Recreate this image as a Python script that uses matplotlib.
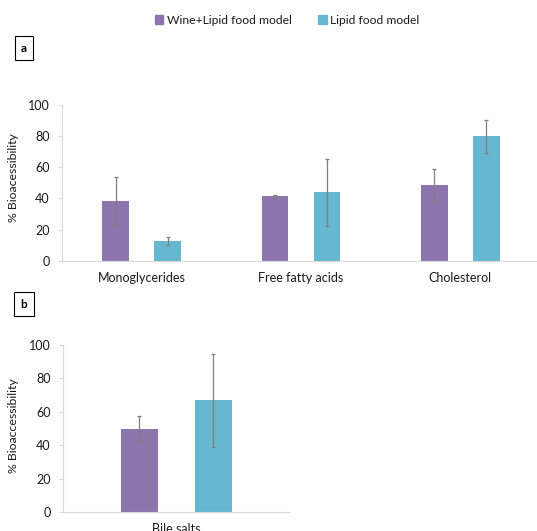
import matplotlib
matplotlib.use("Agg")
import matplotlib.pyplot as plt
import numpy as np
from matplotlib.patches import Patch

plt.rcParams['font.family'] = ['Lato', 'DejaVu Sans']

# Bioaccessibility data (mean and SD) for the two food models
lipid_classes = ["Monoglycerides", "Free fatty acids", "Cholesterol"]
wine_lipid_a = [38.5, 41.5, 48.7]
wine_lipid_a_err = [15.5, 1.0, 10.3]
lipid_a = [12.4, 44.0, 80.0]
lipid_a_err = [2.6, 21.4, 10.7]

bile_classes = ["Bile salts"]
wine_lipid_b = [49.6]
wine_lipid_b_err = [7.6]
lipid_b = [66.8]
lipid_b_err = [27.6]

series_names = ["Wine+Lipid food model", "Lipid food model"]
purple = "#8d76ad"
cyan = "#65b8d0"
axis_grey = "#d9d9d9"
err_grey = "#7f7f7f"
text_col = "#1a1a1a"

fig = plt.figure(figsize=(5.37, 5.31), dpi=100)


def bar_panel(ax, cats, v1, e1, v2, e2, right_pad=0.0):
    x = np.arange(len(cats))
    off = 0.163
    w = 0.167
    ax.bar(x - off, v1, w, color=purple, yerr=e1,
           error_kw=dict(ecolor=err_grey, elinewidth=0.9, capsize=1.5, capthick=0.9))
    ax.bar(x + off, v2, w, color=cyan, yerr=e2,
           error_kw=dict(ecolor=err_grey, elinewidth=0.9, capsize=1.5, capthick=0.9))
    ax.set_xlim(-0.5, len(cats) - 0.5 + right_pad)
    ax.set_ylim(0, 100)
    ax.set_yticks(range(0, 101, 20))
    ax.set_xticks(x)
    ax.set_xticklabels(cats)
    for s in ["top", "right"]:
        ax.spines[s].set_visible(False)
    for s in ["left", "bottom"]:
        ax.spines[s].set_color(axis_grey)
        ax.spines[s].set_linewidth(0.8)
    ax.tick_params(axis="y", length=3, width=0.8, color=axis_grey, pad=6,
                   labelsize=9, labelcolor=text_col)
    ax.tick_params(axis="x", length=0, pad=8, labelsize=9, labelcolor=text_col)


# panel a: lipid classes
ax_a = fig.add_axes([0.1155, 0.509, 0.89, 0.2932])
bar_panel(ax_a, lipid_classes, wine_lipid_a, wine_lipid_a_err, lipid_a, lipid_a_err)

# panel b: bile salts
ax_b = fig.add_axes([0.1173, 0.0358, 0.4227, 0.3145])
bar_panel(ax_b, bile_classes, wine_lipid_b, wine_lipid_b_err, lipid_b, lipid_b_err)

fig.text(14 / 537, 1 - 178 / 531, "% Bioacessibility", rotation=90,
         ha="center", va="center", fontsize=8.8, color=text_col)
fig.text(14 / 537, 1 - 426 / 531, "% Bioaccessibility", rotation=90,
         ha="center", va="center", fontsize=8.8, color=text_col)

# panel letters in boxes
for letter, ypix in [("a", 48), ("b", 304)]:
    fig.text(24 / 537, 1 - ypix / 531, letter, ha="center", va="center",
             fontsize=8.5, fontweight="bold", color="black",
             bbox=dict(boxstyle="square,pad=0.55", fc="white", ec="black", lw=0.8))

handles = [Patch(color=purple), Patch(color=cyan)]
fig.legend(handles, series_names, loc="center", bbox_to_anchor=(287 / 537, 1 - 20 / 531),
           ncol=2, frameon=False, fontsize=8.7, handlelength=0.7, handleheight=0.7,
           handletextpad=0.3, columnspacing=2.2, labelcolor=text_col)

fig.savefig("out.png", dpi=100)
